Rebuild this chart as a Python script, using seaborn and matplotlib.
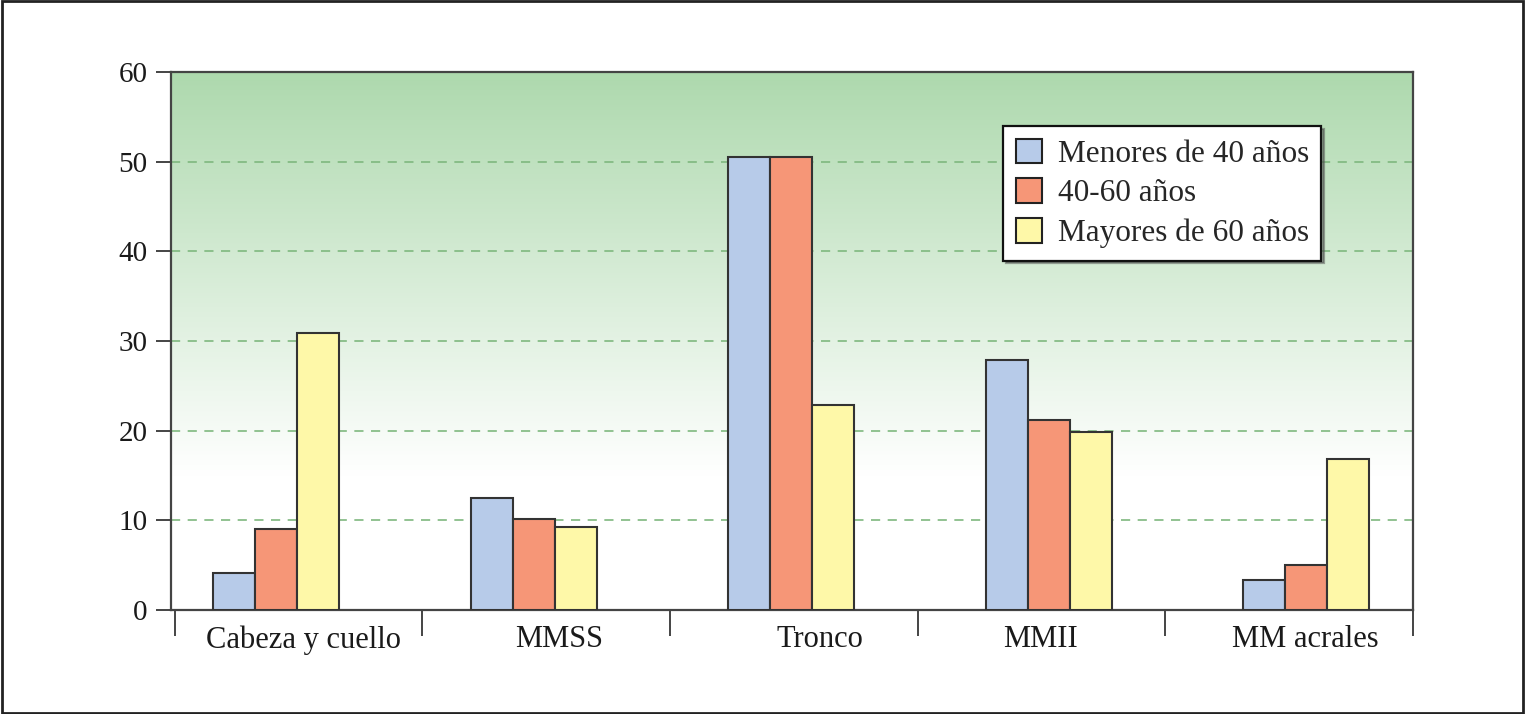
import numpy as np
import pandas as pd
import matplotlib
matplotlib.use("Agg")
import matplotlib.pyplot as plt
import seaborn as sns
from matplotlib.patches import Rectangle

categories = ["Cabeza y cuello", "MMSS", "Tronco", "MMII", "MM acrales"]
groups = ["Menores de 40 años", "40-60 años", "Mayores de 60 años"]
menores_40 = [4.1, 12.5, 50.5, 27.9, 3.3]
de_40_60 = [9.0, 10.1, 50.5, 21.2, 5.0]
mayores_60 = [30.9, 9.3, 22.9, 19.9, 16.8]
yticks = [0, 10, 20, 30, 40, 50, 60]

colors = ["#b7cbe9", "#f69677", "#fef8a8"]

rows = []
for g, vals in zip(groups, [menores_40, de_40_60, mayores_60]):
    for c, v in zip(categories, vals):
        rows.append({"region": c, "grupo": g, "valor": v})
df = pd.DataFrame(rows)

sns.set_theme(style="white")
plt.rcParams["font.family"] = ["Liberation Serif", "DejaVu Serif"]

fig = plt.figure(figsize=(15.26, 7.14), dpi=100)
ax = fig.add_axes([171 / 1526, 1 - 610 / 714, (1413 - 171) / 1526, (610 - 72) / 714])

# layout (pixel-based) helpers: first group centre and category pitch
px0, pitch = 276.0, 257.5
def px2x(p):
    return (p - px0) / pitch

x_left, x_right = px2x(171), px2x(1413)

# green gradient background
ys = np.linspace(0, 60, 400)
t = np.clip((ys - 15) / 45, 0, 1)
top = np.array([0.68, 0.85, 0.68])
white = np.array([1.0, 1.0, 1.0])
grad = white[None, :] * (1 - t[:, None]) + top[None, :] * t[:, None]
grad = grad[:, None, :]

sns.barplot(data=df, x="region", y="valor", hue="grupo", palette=colors,
            saturation=1, width=126 / pitch, gap=0, edgecolor="#333333",
            linewidth=1.5, ax=ax, zorder=3)

ax.imshow(grad, extent=[x_left, x_right, 0, 60], aspect="auto", origin="lower",
          zorder=0, interpolation="bilinear")
ax.set_xlim(x_left, x_right)
ax.set_ylim(0, 60)

ax.set_yticks(yticks)
ax.set_yticklabels([str(v) for v in yticks])
ax.grid(axis="y", linestyle=(0, (5.5, 4.5)), linewidth=1.2, color="#7fb87f", zorder=1)
ax.grid(axis="x", visible=False)
ax.set_axisbelow(True)

label_px = [304, 559, 820, 1040, 1305]
sep_px = [175, 422, 670, 918, 1165, 1413]
ax.set_xticks([px2x(p) for p in label_px])
ax.set_xticklabels(categories)
ax.set_xticks([px2x(p) for p in sep_px], minor=True)
ax.tick_params(axis="x", which="major", length=0, pad=11, labelsize=22, labelcolor="#1a1a1a")
ax.tick_params(axis="x", which="minor", length=19, width=1.4, color="#444444", direction="out", bottom=True)
ax.tick_params(axis="y", which="major", length=11, width=1.4, color="#444444", direction="out",
               pad=6, labelsize=21, labelcolor="#1a1a1a", left=True)

for s in ax.spines.values():
    s.set_visible(True)
    s.set_color("#444444")
    s.set_linewidth(1.6)

ax.set_xlabel("")
ax.set_ylabel("")

leg = ax.legend(loc="upper left", bbox_to_anchor=((1003 - 171) / 1242, (610 - 126) / 538),
                fontsize=22.5, frameon=True, fancybox=False, shadow=True, handlelength=0.85,
                handleheight=0.85, labelspacing=0.3, borderpad=0.4,
                handletextpad=0.5, borderaxespad=0)
leg.get_frame().set_edgecolor("#111111")
leg.get_frame().set_linewidth(1.6)
leg.get_frame().set_facecolor("white")
leg.get_frame().set_alpha(1)
for h in leg.legend_handles:
    h.set_edgecolor("#222222")
    h.set_linewidth(1.5)

fig.patches.append(Rectangle((0.001, 0.002), 0.997, 0.996, transform=fig.transFigure,
                             fill=False, edgecolor="#222222", linewidth=2))

fig.savefig("out.png", dpi=100)
